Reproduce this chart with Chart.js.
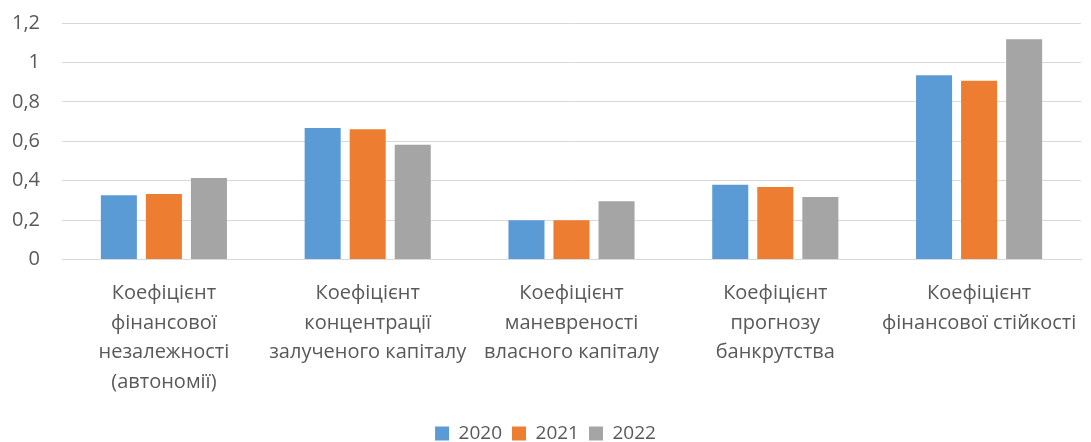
<!DOCTYPE html>
<html>
<head>
<meta charset="utf-8">
<script src="https://cdn.jsdelivr.net/npm/chart.js@4/dist/chart.umd.min.js"></script>
<style>
  html, body { margin: 0; padding: 0; background: #fff; }
  #wrap { width: 1091px; height: 442px; position: relative; }
</style>
</head>
<body>
<div id="wrap"><canvas id="chart"></canvas></div>
<script>
const categories = [
  ['Коефіцієнт', 'фінансової', 'незалежності', '(автономії)'],
  ['Коефіцієнт', 'концентрації', 'залученого капіталу'],
  ['Коефіцієнт', 'маневреності', 'власного капіталу'],
  ['Коефіцієнт', 'прогнозу', 'банкрутства'],
  ['Коефіцієнт', 'фінансової стійкості']
];
const years = ['2020', '2021', '2022'];
const values2020 = [0.327, 0.668, 0.2, 0.38, 0.935];
const values2021 = [0.333, 0.661, 0.2, 0.368, 0.907];
const values2022 = [0.414, 0.582, 0.296, 0.317, 1.117];
const colors = ['#5B9BD5', '#ED7D31', '#A5A5A5'];

const textColor = '#595959';
const fontFamily = '"Open Sans", "Liberation Sans", sans-serif';

new Chart(document.getElementById('chart').getContext('2d'), {
  type: 'bar',
  data: {
    labels: categories,
    datasets: [values2020, values2021, values2022].map((vals, i) => ({
      label: years[i],
      data: vals,
      backgroundColor: colors[i],
      borderWidth: 0,
      categoryPercentage: 0.663,
      barPercentage: 0.8
    }))
  },
  options: {
    responsive: true,
    maintainAspectRatio: false,
    animation: false,
    layout: { padding: { top: 23, right: 10, left: 10, bottom: -11 } },
    plugins: {
      legend: {
        position: 'bottom',
        labels: {
          color: textColor,
          font: { family: fontFamily, size: 19 },
          boxWidth: 14,
          boxHeight: 14,
          padding: 10
        }
      },
      tooltip: { enabled: false }
    },
    scales: {
      x: {
        grid: { display: false },
        border: { color: '#D9D9D9' },
        afterFit: scale => {
          scale.paddingLeft = 0;
          scale.paddingRight = 0;
          scale.height += 6;
        },
        ticks: {
          color: textColor,
          font: { family: fontFamily, size: 20, lineHeight: 1.48 },
          maxRotation: 0,
          autoSkip: false,
          padding: 11
        }
      },
      y: {
        min: 0,
        max: 1.2,
        grid: { color: '#D9D9D9', lineWidth: 1, drawTicks: false },
        border: { display: false },
        afterFit: scale => {
          scale.paddingTop = 0;
          scale.paddingBottom = 0;
          scale.width = 52;
        },
        ticks: {
          stepSize: 0.2,
          color: textColor,
          font: { family: fontFamily, size: 20 },
          padding: 22,
          callback: v => String(Math.round(v * 10) / 10).replace('.', ',')
        }
      }
    }
  }
});
</script>
</body>
</html>
